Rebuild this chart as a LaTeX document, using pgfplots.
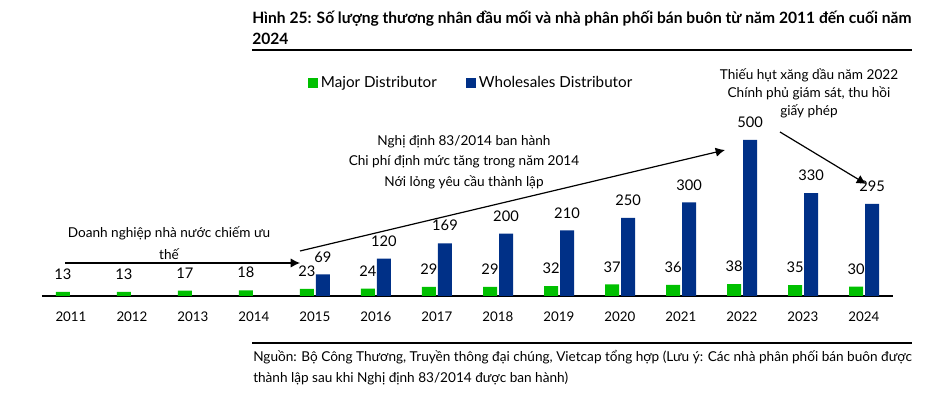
\documentclass[border=0pt]{standalone}
\usepackage{pgfplots}
\pgfplotsset{compat=1.18}
\usepackage{fontspec}
\setmainfont{Lato}
\usetikzlibrary{arrows.meta}
\definecolor{mgreen}{RGB}{0,192,0}
\definecolor{mblue}{RGB}{0,48,135}
\pgfplotstableread{
x y
2011 13
2012 13
2013 17
2014 18
2015 23
2016 24
2017 29
2018 29
2019 32
2020 37
2021 36
2022 38
2023 35
2024 30
}\greendata
\pgfplotstableread{
x y
2015 69
2016 120
2017 169
2018 200
2019 210
2020 250
2021 300
2022 500
2023 330
2024 295
}\bluedata
\begin{document}
\begin{tikzpicture}[x=0.75pt,y=0.75pt]
\useasboundingbox (0,0) rectangle (933,395);
% title
\node[anchor=west,font=\bfseries\fontsize{11.7}{13}\selectfont,inner sep=0] at (252,395-19) {Hình 25: Số lượng thương nhân đầu mối và nhà phân phối bán buôn từ năm 2011 đến cuối năm};
\node[anchor=west,font=\bfseries\fontsize{11.7}{13}\selectfont,inner sep=0] at (252,395-39) {2024};
\draw[line width=0.9pt] (252,395-50) -- (912,395-50);
\draw[line width=0.9pt] (252,395-343) -- (912,395-343);
\node[anchor=west,font=\fontsize{10.2}{12}\selectfont,inner sep=0] at (253,395-357) {Nguồn: Bộ Công Thương, Truyền thông đại chúng, Vietcap tổng hợp (Lưu ý: Các nhà phân phối bán buôn được};
\node[anchor=west,font=\fontsize{10.2}{12}\selectfont,inner sep=0] at (253,395-378) {thành lập sau khi Nghị định 83/2014 được ban hành)};
\begin{axis}[
  at={(31.5pt,74.25pt)}, anchor=south west,
  scale only axis, width=638.25pt, height=140.4pt,
  xmin=2010.525, xmax=2024.475, ymin=0, ymax=600,
  axis x line*=bottom, axis y line=none,
  x axis line style={line width=0.9pt,-},
  xtick={2011,...,2024},
  /pgf/number format/.cd, 1000 sep={}, assume math mode=true, /pgfplots/.cd,
  major tick length=0pt,
  x tick label style={font=\fontsize{10}{12}\selectfont, inner sep=0pt, yshift=-12pt},
  ybar, bar width=10.5pt,
  clip=false,
  nodes near coords,
  nodes near coords style={font=\fontsize{11}{13}\selectfont, inner sep=0pt, anchor=south, yshift=9pt, text=black},
  legend columns=2,
  legend style={draw=none, fill=none, inner sep=0pt, at={(axis cs:2014.885,683)}, anchor=west,
    font=\fontsize{11.4}{13}\selectfont,
    /tikz/every even column/.append style={column sep=20pt}},
  legend image code/.code={\fill[#1] (0pt,-3.75pt) rectangle (7.5pt,3.75pt);},
]
\addplot[fill=mgreen, draw=none, bar shift=-6pt] table[x=x,y=y] {\greendata};
\addlegendentry{Major Distributor}
\addplot[fill=mblue, draw=none, bar shift=6pt] table[x=x,y=y] {\bluedata};
\addlegendentry{Wholesales Distributor}
\end{axis}
% annotations
\draw[line width=0.9pt,-{Latex[length=7pt,width=7pt]}] (65,395-263) -- (300,395-263);
\draw[line width=0.9pt,-{Latex[length=7pt,width=7pt]}] (300,395-251) -- (725,395-150);
\draw[line width=0.9pt,-{Latex[length=7pt,width=7pt]}] (780,395-132) -- (866,395-184);
\begin{scope}[every node/.style={font=\fontsize{10.2}{12}\selectfont, inner sep=0pt}]
\node at (169,395-233) {Doanh nghiệp nhà nước chiếm ưu};
\node at (169,395-254) {thế};
\node at (464,395-142) {Nghị định 83/2014 ban hành};
\node at (464,395-162) {Chi phí định mức tăng trong năm 2014};
\node at (464,395-182) {Nới lỏng yêu cầu thành lập};
\node at (809,395-75) {Thiếu hụt xăng dầu năm 2022};
\node at (809,395-93) {Chính phủ giám sát, thu hồi};
\node at (809,395-111) {giấy phép};
\end{scope}
\end{tikzpicture}
\end{document}
